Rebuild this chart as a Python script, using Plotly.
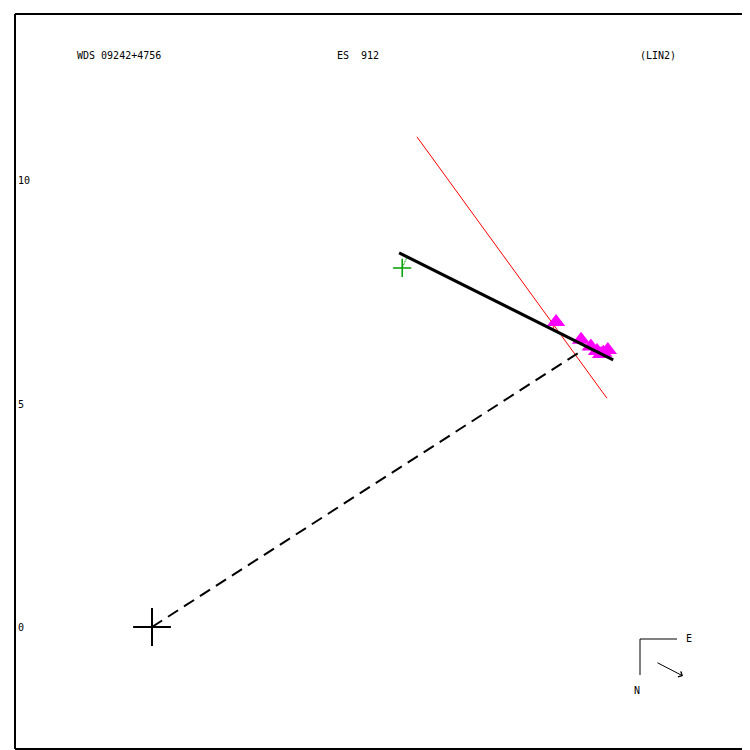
import numpy as np
import plotly.graph_objects as go

# ---- data (in arcsec-like plot units) ----
obs_x = [9.06, 9.62, 9.84, 9.98, 10.07, 10.12, 10.22]
obs_y = [6.84, 6.44, 6.29, 6.19, 6.12, 6.15, 6.21]

orbit_x = [5.54, 10.34]
orbit_y = [8.39, 5.99]

node_line_x = [5.94, 10.20]
node_line_y = [10.99, 5.13]

periastron_x = [0.0, 9.69]
periastron_y = [0.0, 6.23]

green_x = [5.61]
green_y = [8.05]
green_link_x = [5.61, 5.72]
green_link_y = [8.05, 8.30]

ytick_vals = [0, 5, 10]
ytick_text = ["0", "5", "10"]

title_left = "WDS 09242+4756"
title_mid = "ES  912"
title_right = "(LIN2)"

X_RANGE = [-3.072, 13.408]
Y_RANGE = [-2.735, 13.744]

FONT = dict(family="DejaVu Sans Mono", size=10, color="black")

fig = go.Figure()

# residual lines: from each observation to its projection on the orbit segment
p0 = np.array([orbit_x[0], orbit_y[0]])
p1 = np.array([orbit_x[1], orbit_y[1]])
d = p1 - p0
for ox, oy in zip(obs_x, obs_y):
    t = np.dot(np.array([ox, oy]) - p0, d) / np.dot(d, d)
    q = p0 + t * d
    fig.add_trace(go.Scatter(x=[ox, q[0]], y=[oy, q[1]], mode="lines",
                             line=dict(color="red", width=1), hoverinfo="skip"))

# line of nodes (red)
fig.add_trace(go.Scatter(x=node_line_x, y=node_line_y, mode="lines",
                         line=dict(color="red", width=1)))

# periastron line (dashed)
fig.add_trace(go.Scatter(x=periastron_x, y=periastron_y, mode="lines",
                         line=dict(color="black", width=2, dash="12px,7px")))

# observations
fig.add_trace(go.Scatter(x=obs_x, y=obs_y, mode="markers",
                         marker=dict(symbol="triangle-up", size=16, color="#ff00ff",
                                     line=dict(width=0))))

# orbit (black solid)
fig.add_trace(go.Scatter(x=orbit_x, y=orbit_y, mode="lines",
                         line=dict(color="black", width=3)))

# green point and link
fig.add_trace(go.Scatter(x=green_link_x, y=green_link_y, mode="lines",
                         line=dict(color="#00a000", width=1, dash="2px,1px")))
fig.add_trace(go.Scatter(x=green_x, y=green_y, mode="markers",
                         marker=dict(symbol="cross-thin", size=13,
                                     line=dict(color="#00a000", width=1.5))))

# primary star at origin
fig.add_trace(go.Scatter(x=[0], y=[0], mode="markers",
                         marker=dict(symbol="cross-thin", size=27,
                                     line=dict(color="black", width=2))))

# page has an 8px body margin: figure is 742x742, plot area 735x735 starting at (15,14)
W = 735.0
def px(xp):
    return (xp - 15) / W
def py(yp):
    return 1 - (yp - 14) / W

# frame (left, top, bottom)
for x0, y0, x1, y1 in [(0, 0, 0, 1), (0, 1, 1.02, 1), (0, 0, 1.02, 0)]:
    fig.add_shape(type="line", xref="paper", yref="paper", x0=x0, y0=y0, x1=x1, y1=y1,
                  line=dict(color="black", width=2))

# tick labels
for v, t in zip(ytick_vals, ytick_text):
    fig.add_annotation(x=0, xref="paper", y=v, yref="y", text=t, showarrow=False,
                       xanchor="left", xshift=1, font=FONT)

# titles
for xp, t in [(75, title_left), (335, title_mid), (638, title_right)]:
    fig.add_annotation(x=px(xp), xref="paper", y=py(55), yref="paper", text=t,
                       showarrow=False, xanchor="left", yanchor="middle", font=FONT)

# compass
fig.add_shape(type="line", xref="paper", yref="paper", x0=px(640), y0=py(639), x1=px(677), y1=py(639),
              line=dict(color="black", width=1))
fig.add_shape(type="line", xref="paper", yref="paper", x0=px(640), y0=py(639), x1=px(640), y1=py(675),
              line=dict(color="black", width=1))
fig.add_annotation(x=px(684), xref="paper", y=py(638), yref="paper", text="E", showarrow=False,
                   xanchor="left", yanchor="middle", font=FONT)
fig.add_annotation(x=px(637), xref="paper", y=py(690), yref="paper", text="N", showarrow=False,
                   xanchor="center", yanchor="middle", font=FONT)
fig.add_annotation(x=px(683), y=py(676), xref="paper", yref="paper",
                   axref="pixel", ayref="pixel", ax=-27, ay=-14, text="", showarrow=True,
                   arrowhead=4, arrowsize=1.2, arrowwidth=1, arrowcolor="black")

fig.update_xaxes(range=X_RANGE, visible=False, showgrid=False, zeroline=False)
fig.update_yaxes(range=Y_RANGE, visible=False, showgrid=False, zeroline=False)
fig.update_layout(width=742, height=742, margin=dict(l=7, r=0, t=6, b=1),
                  plot_bgcolor="white", paper_bgcolor="white", showlegend=False)

fig.write_html("out.html")
